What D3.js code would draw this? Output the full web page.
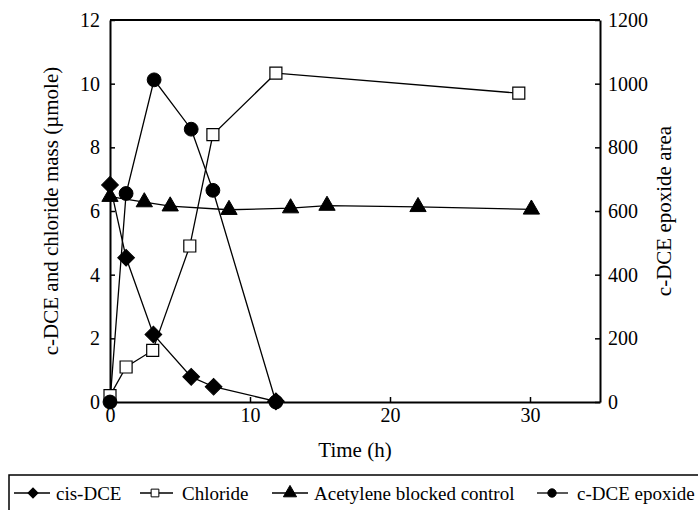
<!DOCTYPE html>
<html>
<head>
<meta charset="utf-8">
<script src="https://cdn.jsdelivr.net/npm/d3@7"></script>
<style>
  body { margin: 0; background: #fff; }
  svg text { font-family: "Liberation Serif", serif; fill: #000; }
</style>
</head>
<body>
<div id="chart"></div>
<script>
// time (h) and values
const dceTime = [0, 1.15, 3.1, 5.8, 7.4, 11.85];
const dceMass = [6.82, 4.53, 2.12, 0.79, 0.48, 0.02];

const chlorideTime = [0, 1.15, 3.05, 5.7, 7.35, 11.85, 29.2];
const chlorideMass = [0.2, 1.1, 1.62, 4.9, 8.4, 10.33, 9.7];

const controlTime = [0, 2.45, 4.3, 8.5, 12.9, 15.5, 22, 30.1];
const controlMass = [6.45, 6.28, 6.15, 6.04, 6.09, 6.17, 6.13, 6.05];

const epoxideTime = [0, 1.15, 3.15, 5.8, 7.35, 11.85];
const epoxideArea = [0, 655, 1012, 857, 665, 0];

const xTicks = [0, 10, 20, 30];
const yLeftTicks = [0, 2, 4, 6, 8, 10, 12];
const yRightTicks = [0, 200, 400, 600, 800, 1000, 1200];

const width = 698, height = 510;
const margin = {left: 110, right: 98, top: 20, bottom: 108};
const FONT = '"Liberation Serif", serif';

const svg = d3.select('#chart').append('svg')
  .attr('width', width)
  .attr('height', height)
  .attr('font-family', FONT);

const x = d3.scaleLinear().domain([0, 35]).range([margin.left, width - margin.right]);
const yL = d3.scaleLinear().domain([0, 12]).range([height - margin.bottom, margin.top]);
const yR = d3.scaleLinear().domain([0, 1200]).range([height - margin.bottom, margin.top]);

const zip = (a, b) => a.map((d, i) => [d, b[i]]);

// frame top line
svg.append('line')
  .attr('x1', x(0)).attr('x2', x(35))
  .attr('y1', yL(12)).attr('y2', yL(12))
  .attr('stroke', '#000').attr('stroke-width', 2);

// axes, ticks pointing inward
const xAxis = svg.append('g')
  .attr('transform', 'translate(0,' + yL(0) + ')')
  .call(d3.axisBottom(x).tickValues(xTicks).tickSizeInner(-5).tickSizeOuter(0).tickPadding(6));
const leftAxis = svg.append('g')
  .attr('transform', 'translate(' + x(0) + ',0)')
  .call(d3.axisLeft(yL).tickValues(yLeftTicks).tickSizeInner(-5).tickSizeOuter(0).tickPadding(10));
const rightAxis = svg.append('g')
  .attr('transform', 'translate(' + x(35) + ',0)')
  .call(d3.axisRight(yR).tickValues(yRightTicks).tickFormat(d3.format('d'))
    .tickSizeInner(-5).tickSizeOuter(0).tickPadding(8));

[xAxis, leftAxis, rightAxis].forEach(g => {
  g.attr('font-family', FONT).attr('font-size', 20);
  g.select('.domain').attr('stroke-width', 2);
  g.selectAll('.tick line').attr('stroke-width', 1.5);
});

// axis titles
svg.append('text')
  .attr('x', x(17.5)).attr('y', 457)
  .attr('text-anchor', 'middle')
  .attr('font-size', 21)
  .text('Time (h)');
svg.append('text')
  .attr('transform', 'translate(58,' + yL(6) + ') rotate(-90)')
  .attr('text-anchor', 'middle')
  .attr('font-size', 21)
  .text('c-DCE and chloride mass (µmole)');
svg.append('text')
  .attr('transform', 'translate(671,' + yL(6) + ') rotate(-90)')
  .attr('text-anchor', 'middle')
  .attr('font-size', 21)
  .text('c-DCE epoxide area');

// symbols
const sym = {
  diamond: d3.symbol().type(d3.symbolSquare).size(140),
  square: d3.symbol().type(d3.symbolSquare).size(144),
  triangle: d3.symbol().type(d3.symbolTriangle).size(115),
  circle: d3.symbol().type(d3.symbolCircle).size(150)
};

function drawMarker(g, kind, px, py) {
  const p = g.append('path')
    .attr('d', sym[kind]())
    .attr('stroke', '#000');
  if (kind === 'diamond') {
    p.attr('transform', 'translate(' + px + ',' + py + ') rotate(45)').attr('fill', '#000');
  } else if (kind === 'square') {
    p.attr('transform', 'translate(' + px + ',' + py + ')').attr('fill', '#fff').attr('stroke-width', 1.2);
  } else {
    p.attr('transform', 'translate(' + px + ',' + py + ')').attr('fill', '#000');
  }
}

const line = d3.line();

const series = [
  {name: 'Chloride', kind: 'square', pts: zip(chlorideTime, chlorideMass).map(d => [x(d[0]), yL(d[1])])},
  {name: 'Acetylene blocked control', kind: 'triangle', pts: zip(controlTime, controlMass).map(d => [x(d[0]), yL(d[1])])},
  {name: 'cis-DCE', kind: 'diamond', pts: zip(dceTime, dceMass).map(d => [x(d[0]), yL(d[1])])},
  {name: 'c-DCE epoxide', kind: 'circle', pts: zip(epoxideTime, epoxideArea).map(d => [x(d[0]), yR(d[1])])}
];

series.forEach(s => {
  svg.append('path')
    .attr('d', line(s.pts))
    .attr('fill', 'none')
    .attr('stroke', '#000')
    .attr('stroke-width', 1.3);
});
series.forEach(s => {
  const g = svg.append('g');
  s.pts.forEach(p => drawMarker(g, s.kind, p[0], p[1]));
});

// legend
const legend = svg.append('g');
legend.append('rect')
  .attr('x', 9).attr('y', 475)
  .attr('width', 720).attr('height', 60)
  .attr('fill', 'none').attr('stroke', '#000').attr('stroke-width', 1.5);

const legendItems = [
  {name: 'cis-DCE', kind: 'diamond', x0: 14, x1: 50, cx: 33, tx: 56},
  {name: 'Chloride', kind: 'square', x0: 140, x1: 173, cx: 155, tx: 182},
  {name: 'Acetylene blocked control', kind: 'triangle', x0: 272, x1: 308, cx: 290, tx: 314},
  {name: 'c-DCE epoxide', kind: 'circle', x0: 537, x1: 568, cx: 552, tx: 577}
];
const ly = 493;
legendItems.forEach(d => {
  legend.append('line')
    .attr('x1', d.x0).attr('x2', d.x1)
    .attr('y1', ly).attr('y2', ly)
    .attr('stroke', '#000').attr('stroke-width', 1.3);
  const p = legend.append('path').attr('stroke', '#000');
  if (d.kind === 'diamond') {
    p.attr('d', d3.symbol().type(d3.symbolSquare).size(50)())
      .attr('transform', 'translate(' + d.cx + ',' + ly + ') rotate(45)').attr('fill', '#000');
  } else if (d.kind === 'square') {
    p.attr('d', d3.symbol().type(d3.symbolSquare).size(60)())
      .attr('transform', 'translate(' + d.cx + ',' + ly + ')').attr('fill', '#fff');
  } else if (d.kind === 'triangle') {
    p.attr('d', d3.symbol().type(d3.symbolTriangle).size(75)())
      .attr('transform', 'translate(' + d.cx + ',' + ly + ')').attr('fill', '#000');
  } else {
    p.attr('d', d3.symbol().type(d3.symbolCircle).size(55)())
      .attr('transform', 'translate(' + d.cx + ',' + ly + ')').attr('fill', '#000');
  }
  legend.append('text')
    .attr('x', d.tx).attr('y', ly + 6.5)
    .attr('font-size', 19)
    .text(d.name);
});
</script>
</body>
</html>
